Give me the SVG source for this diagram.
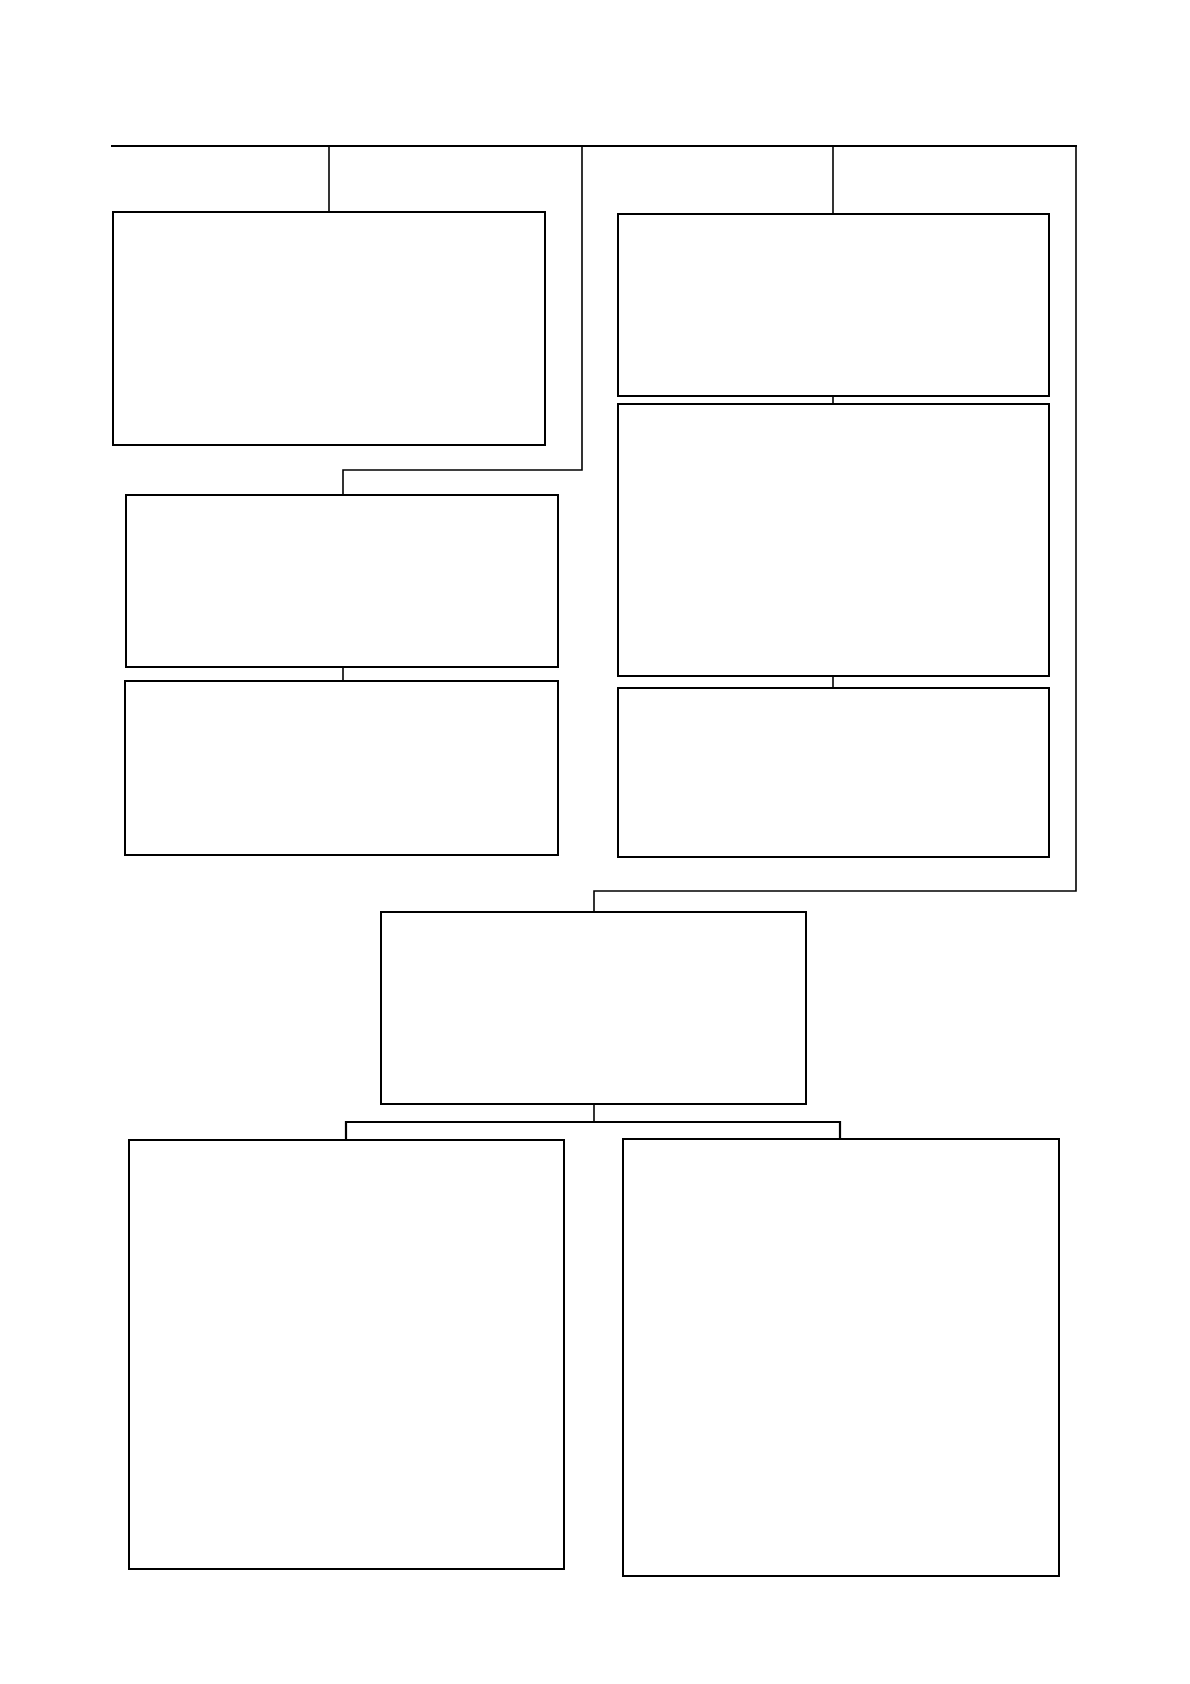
<svg xmlns="http://www.w3.org/2000/svg" width="1190" height="1684" viewBox="0 0 1190 1684">
<style>
.box{fill:#fff;stroke:#000;stroke-width:2}
.con{fill:none;stroke:#000;stroke-width:1.6}
.bus{fill:none;stroke:#000;stroke-width:2.2}
</style>
<rect width="1190" height="1684" fill="#fff"/>
<g id="connectors">
<line class="bus" x1="111" y1="146" x2="1077" y2="146"/>
<line class="con" x1="329" y1="146" x2="329" y2="213"/>
<polyline class="con" points="582,146 582,470 343,470 343,495"/>
<line class="con" x1="343" y1="667" x2="343" y2="681"/>
<line class="con" x1="833" y1="146" x2="833" y2="214"/>
<line class="con" x1="833" y1="396" x2="833" y2="404"/>
<line class="con" x1="833" y1="676" x2="833" y2="688"/>
<polyline class="con" points="1076,146 1076,891 594,891 594,912"/>
<line class="con" x1="594" y1="1104" x2="594" y2="1122"/>
<polyline class="bus" points="346,1140 346,1122 840,1122 840,1139"/>
</g>
<g id="node-a"><rect class="box" x="113" y="212" width="432" height="233"/></g>
<g id="node-b"><rect class="box" x="126" y="495" width="432" height="172"/></g>
<g id="node-c"><rect class="box" x="125" y="681" width="433" height="174"/></g>
<g id="node-d"><rect class="box" x="618" y="214" width="431" height="182"/></g>
<g id="node-e"><rect class="box" x="618" y="404" width="431" height="272"/></g>
<g id="node-f"><rect class="box" x="618" y="688" width="431" height="169"/></g>
<g id="node-g"><rect class="box" x="381" y="912" width="425" height="192"/></g>
<g id="node-h"><rect class="box" x="129" y="1140" width="435" height="429"/></g>
<g id="node-i"><rect class="box" x="623" y="1139" width="436" height="437"/></g>
</svg>
